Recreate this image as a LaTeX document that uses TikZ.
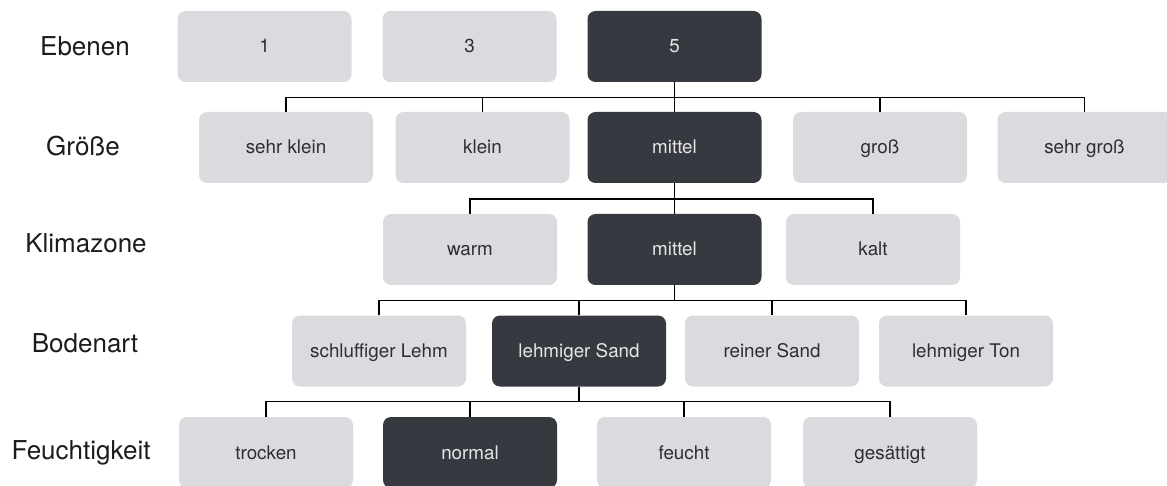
\documentclass[tikz,border=0pt]{standalone}
\usepackage{fontspec}
\setmainfont{TeX Gyre Heros}
\definecolor{boxlight}{HTML}{DADBDF}
\definecolor{boxdark}{HTML}{373940}
\definecolor{txtdark}{HTML}{2E2E30}
\definecolor{txtlight}{HTML}{E6E6E8}
\definecolor{labeltxt}{HTML}{1C1C1C}
\tikzset{
  opt/.style={rectangle, rounded corners=8pt, minimum width=174pt, minimum height=71pt,
    inner sep=0pt, text height=17pt, text depth=4pt,
    fill=boxlight, text=txtdark, font=\fontsize{18.8}{22}\selectfont},
  sel/.style={opt, fill=boxdark, text=txtlight},
  levellabel/.style={inner sep=0pt, anchor=base, text=labeltxt, font=\fontsize{26}{30}\selectfont},
  wire/.style={draw=black, line width=1.7pt, line join=miter, line cap=butt}
}
\begin{document}
\begin{tikzpicture}[x=1pt,y=-1pt]
\useasboundingbox (0,0) rectangle (1167,486);

% level names (placed on their baselines)
\node[levellabel] (lEb) at (85,56) {Ebenen};
\node[levellabel] (lGr) at (83,156) {Größe};
\node[levellabel] (lKl) at (86,253) {Klimazone};
\node[levellabel] (lBo) at (85,352) {Bodenart};
\node[levellabel] (lFe) at (81,459) {Feuchtigkeit};

% Ebenen
\node[opt] (e1) at (264.5,46.5) {1};
\node[opt] (e3) at (469.5,46.5) {3};
\node[sel] (e5) at (674.5,46.5) {5};

% Größe
\node[opt] (g1) at (286,147.5) {sehr klein};
\node[opt] (g2) at (482.5,147.5) {klein};
\node[sel] (g3) at (674.5,147.5) {mittel};
\node[opt] (g4) at (880,147.5) {groß};
\node[opt] (g5) at (1084.5,147.5) {sehr groß};

% Klimazone
\node[opt] (k1) at (470,249.5) {warm};
\node[sel] (k2) at (674.5,249.5) {mittel};
\node[opt] (k3) at (873,249.5) {kalt};

% Bodenart
\node[opt] (b1) at (379,351) {schluffiger Lehm};
\node[sel] (b2) at (579,351) {lehmiger Sand};
\node[opt] (b3) at (772,351) {reiner Sand};
\node[opt] (b4) at (966,351) {lehmiger Ton};

% Feuchtigkeit
\node[opt] (f1) at (266,452.5) {trocken};
\node[sel] (f2) at (470,452.5) {normal};
\node[opt] (f3) at (684,452.5) {feucht};
\node[opt] (f4) at (890,452.5) {gesättigt};

% bus lines between levels
\coordinate (busA) at (0,97.5);
\coordinate (busB) at (0,199);
\coordinate (busC) at (0,300.5);
\coordinate (busD) at (0,401.5);

\draw[wire] (e5.south) -- (e5.south |- busA);
\draw[wire] (g1.north) -- (g1.north |- busA) -- (g5.north |- busA) -- (g5.north);
\foreach \c in {g2,g3,g4} \draw[wire] (\c.north) -- (\c.north |- busA);

\draw[wire] (g3.south) -- (g3.south |- busB);
\draw[wire] (k1.north) -- (k1.north |- busB) -- (k3.north |- busB) -- (k3.north);
\draw[wire] (k2.north) -- (k2.north |- busB);

\draw[wire] (k2.south) -- (k2.south |- busC);
\draw[wire] (b1.north) -- (b1.north |- busC) -- (b4.north |- busC) -- (b4.north);
\foreach \c in {b2,b3} \draw[wire] (\c.north) -- (\c.north |- busC);

\draw[wire] (b2.south) -- (b2.south |- busD);
\draw[wire] (f1.north) -- (f1.north |- busD) -- (f4.north |- busD) -- (f4.north);
\foreach \c in {f2,f3} \draw[wire] (\c.north) -- (\c.north |- busD);
\end{tikzpicture}
\end{document}
